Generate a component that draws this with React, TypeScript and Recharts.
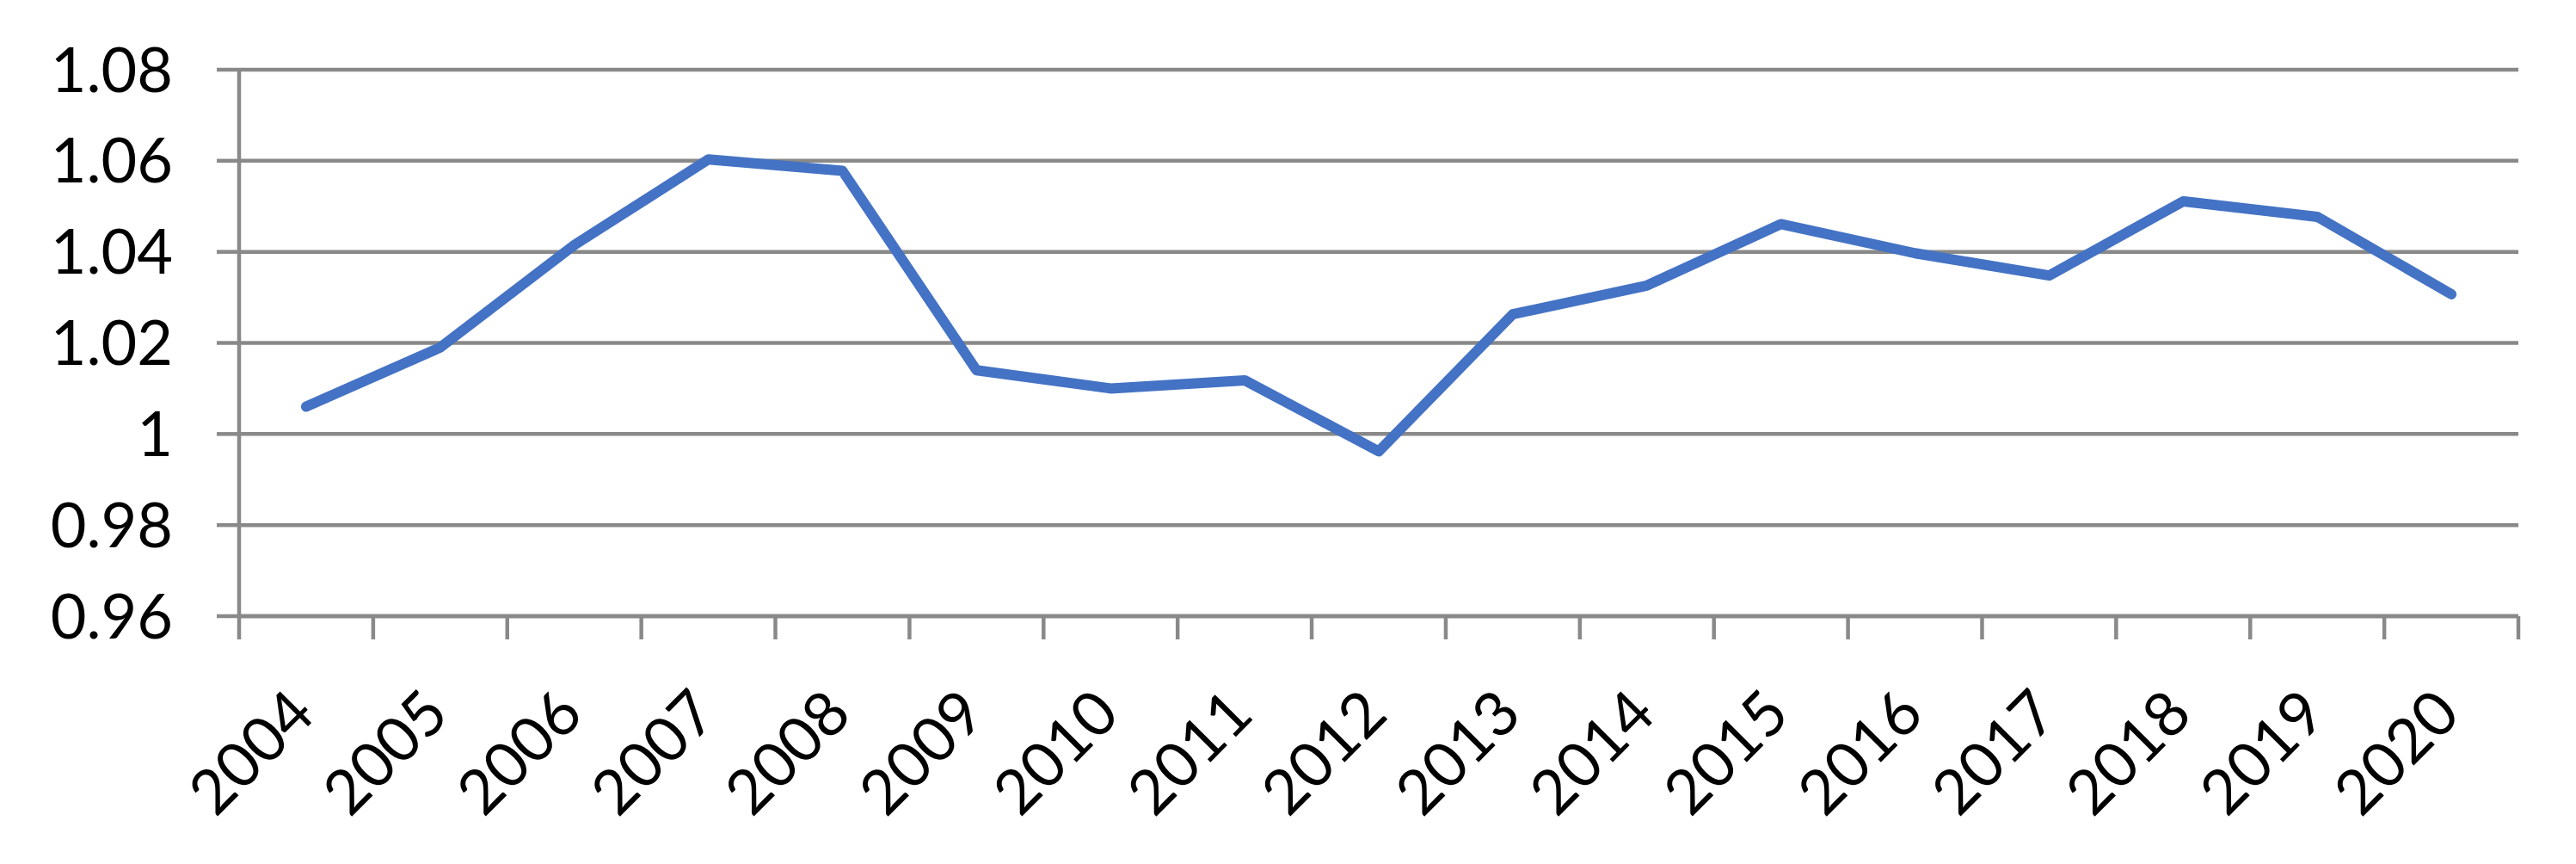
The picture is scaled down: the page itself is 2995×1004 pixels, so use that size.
import { LineChart, Line, XAxis, YAxis, CartesianGrid } from "recharts";

const years = [
  "2004", "2005", "2006", "2007", "2008", "2009", "2010", "2011", "2012",
  "2013", "2014", "2015", "2016", "2017", "2018", "2019", "2020",
];
const values = [
  1.006, 1.019, 1.0415, 1.0603, 1.0578, 1.014, 1.01, 1.0118, 0.9962,
  1.0263, 1.0326, 1.0461, 1.0397, 1.0348, 1.0511, 1.0477, 1.0307,
];
const yTicks = [0.96, 0.98, 1, 1.02, 1.04, 1.06, 1.08];

const W = 2995;
const H = 1004;
const LEFT = 278;
const RIGHT = 67;
const TOP = 81;
const BOTTOM = 288;
const HALF_BAND = (W - LEFT - RIGHT) / (2 * years.length);

const GRID = "#898989";
const FONT = "Lato, 'Open Sans', sans-serif";

const data = years.map((year, i) => ({ x: i + 0.5, year, value: values[i] }));
// tick marks sit between categories, like Excel's default
const boundaries = years.map((_, i) => i).concat(years.length);

function YearTick(props: any) {
  const { x, y, payload } = props;
  const label = years[payload.value];
  if (!label) return null;
  const tx = x + HALF_BAND + 13;
  const ty = y + 90;
  return (
    <text
      x={tx}
      y={ty}
      transform={`rotate(-45, ${tx}, ${ty})`}
      textAnchor="end"
      fontSize={72}
      fontFamily={FONT}
      fill="#000"
    >
      {label}
    </text>
  );
}

export default function App() {
  return (
    <div style={{ position: "absolute", left: 0, top: 0, width: W, height: H, background: "#fff" }}>
      <LineChart width={W} height={H} data={data} margin={{ top: TOP, right: RIGHT, bottom: 0, left: 0 }}>
        <CartesianGrid vertical={false} stroke={GRID} strokeWidth={4.5} />
        <XAxis
          dataKey="x"
          type="number"
          domain={[0, years.length]}
          ticks={boundaries}
          interval={0}
          height={BOTTOM}
          tickSize={27}
          tickMargin={0}
          axisLine={{ stroke: GRID, strokeWidth: 4.5 }}
          tickLine={{ stroke: GRID, strokeWidth: 4.5 }}
          tick={<YearTick />}
        />
        <YAxis
          type="number"
          domain={[0.96, 1.08]}
          ticks={yTicks}
          interval={0}
          width={LEFT}
          tickSize={26}
          tickMargin={51}
          axisLine={{ stroke: GRID, strokeWidth: 4.5 }}
          tickLine={{ stroke: GRID, strokeWidth: 4.5 }}
          tick={{ fontSize: 72, fontFamily: FONT, fill: "#000" }}
          tickFormatter={(v: number) => String(Number(v.toFixed(2)))}
        />
        <Line
          type="linear"
          dataKey="value"
          stroke="#4472C4"
          strokeWidth={12}
          strokeLinecap="round"
          strokeLinejoin="round"
          dot={false}
          activeDot={false}
          isAnimationActive={false}
        />
      </LineChart>
    </div>
  );
}
